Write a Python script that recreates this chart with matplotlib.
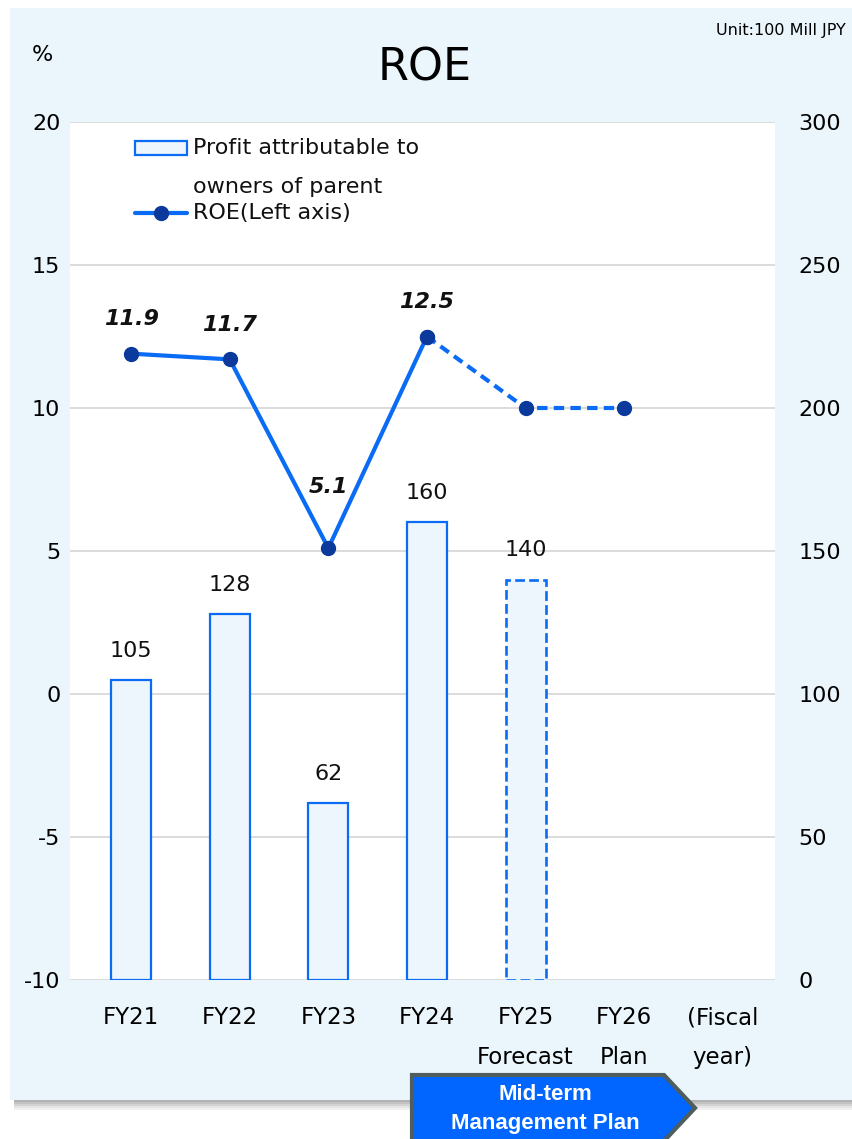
import matplotlib.pyplot as plt
from matplotlib.patches import Rectangle, Polygon
from matplotlib.lines import Line2D

# -----------------------------
# Data
# -----------------------------
categories = ["FY21", "FY22", "FY23", "FY24", "FY25\nForecast", "FY26\nPlan", "(Fiscal\nyear)"]
profit = [105, 128, 62, 160, 140]          # 100 Mill JPY (right axis)
profit_styles = ["solid", "solid", "solid", "solid", "dashed"]
roe = [11.9, 11.7, 5.1, 12.5, 10.0, 10.0]  # % (left axis)
roe_labels = ["11.9", "11.7", "5.1", "12.5"]
roe_label_offsets = [25, 25, 44, 25]       # points above the marker
left_ticks = [-10, -5, 0, 5, 10, 15, 20]
right_ticks = [0, 50, 100, 150, 200, 250, 300]

BLUE = "#0a6cf5"
NAVY = "#0b3a9c"
FILL = "#eef6fd"
PANEL = "#eaf6fc"
GRID = "#d9d9d9"

W, H = 852, 1139
fig = plt.figure(figsize=(W / 100, H / 100), dpi=100)
fig.patch.set_facecolor("white")


def fx(px):
    return px / W


def fy(py):
    return 1 - py / H


# -----------------------------
# Background panel with shadow
# -----------------------------
for i, a in enumerate([0.45, 0.35, 0.25, 0.15, 0.08]):
    fig.patches.append(Rectangle((fx(14), fy(1100 + 2 * (i + 1))), fx(840), 2 / H,
                                 transform=fig.transFigure, color="#555555", alpha=a,
                                 lw=0, zorder=-2))
fig.patches.append(Rectangle((fx(10), fy(1100)), fx(842), 1092 / H,
                             transform=fig.transFigure, color=PANEL, lw=0, zorder=-1))

# -----------------------------
# Axes
# -----------------------------
ax = fig.add_axes([fx(70), fy(980), 705 / W, 858 / H])
axb = ax.twinx()
axb.set_zorder(1)
ax.set_zorder(2)
ax.patch.set_visible(False)
axb.patch.set_visible(True)
axb.patch.set_facecolor("white")

x = list(range(len(categories)))
ax.set_xlim(-0.62, 6.53)
ax.set_ylim(-10, 20)
axb.set_ylim(0, 300)

# bars (right axis)
for i, (v, st) in enumerate(zip(profit, profit_styles)):
    axb.bar(x[i], v, width=0.405, color=FILL, edgecolor=BLUE,
            lw=1.6 if st == "solid" else 1.9, linestyle=st, zorder=2)
    axb.annotate(str(v), (x[i], v), xytext=(0, 21), textcoords="offset points",
                 ha="center", va="center", fontsize=16, color="#111111")

# ROE line (left axis)
ax.plot(x[:4], roe[:4], color=BLUE, lw=3, marker="o", ms=10, mfc=NAVY, mec=NAVY,
        solid_capstyle="round", zorder=3)
ax.plot(x[3:6], roe[3:], color=BLUE, lw=3, ls=(0, (2.5, 1.5)), marker="o", ms=10,
        mfc=NAVY, mec=NAVY, zorder=3)
for i, (lab, off) in enumerate(zip(roe_labels, roe_label_offsets)):
    ax.annotate(lab, (x[i], roe[i]), xytext=(0, off), textcoords="offset points",
                ha="center", va="center", fontsize=16, fontweight="bold",
                fontstyle="italic", color="#111111")

# grid and ticks
axb.set_yticks(right_ticks)
axb.yaxis.grid(True, color=GRID, lw=1.3)
axb.set_axisbelow(True)
ax.set_yticks(left_ticks)
ax.set_yticklabels([str(t) for t in left_ticks])
ax.set_xticks(x)
ax.set_xticklabels(categories, linespacing=1.9)
ax.tick_params(axis="y", length=0, pad=7, labelsize=16)
ax.tick_params(axis="x", length=0, pad=19, labelsize=16.5)
axb.tick_params(axis="y", length=0, pad=17, labelsize=16)
for a in (ax, axb):
    for s in a.spines.values():
        s.set_visible(False)

# legend (drawn by hand to mimic the original layout)
ax.add_patch(Rectangle((0.0922, 0.9615), 0.0738, 0.0165, transform=ax.transAxes,
                       facecolor=FILL, edgecolor=BLUE, lw=1.6, clip_on=False, zorder=5))
ax.add_line(Line2D([0.0922, 0.166], [0.894, 0.894], transform=ax.transAxes, color=BLUE,
                   lw=3, solid_capstyle="round", zorder=5))
ax.add_line(Line2D([0.129], [0.894], transform=ax.transAxes, marker="o", ms=10,
                   mfc=NAVY, mec=NAVY, zorder=6))
ax.text(0.1745, 0.9697, "Profit attributable to", transform=ax.transAxes,
        fontsize=16, va="center", ha="left", color="#111111")
ax.text(0.1745, 0.9242, "owners of parent", transform=ax.transAxes,
        fontsize=16, va="center", ha="left", color="#111111")
ax.text(0.1745, 0.894, "ROE(Left axis)", transform=ax.transAxes,
        fontsize=16, va="center", ha="left", color="#111111")

# titles
fig.text(fx(425), fy(68), "ROE", fontsize=32, ha="center", va="center")
fig.text(fx(42), fy(55), "%", fontsize=16, ha="center", va="center")
fig.text(fx(846), fy(30), "Unit:100 Mill JPY", fontsize=11.5, ha="right", va="center")

# mid-term plan arrow
arrow = Polygon([(fx(412), fy(1075)), (fx(664), fy(1075)), (fx(695), fy(1108)),
                 (fx(664), fy(1141)), (fx(412), fy(1141))], closed=True,
                transform=fig.transFigure, facecolor="#0066ff", edgecolor="#4f5d5d",
                lw=3, zorder=5)
fig.patches.append(arrow)
fig.text(fx(545), fy(1095), "Mid-term", fontsize=16, fontweight="bold", color="white",
         family="Liberation Sans", ha="center", va="center", zorder=6)
fig.text(fx(545), fy(1124), "Management Plan", fontsize=16, fontweight="bold",
         color="white", family="Liberation Sans", ha="center", va="center", zorder=6)

fig.savefig("out.png", dpi=100)
